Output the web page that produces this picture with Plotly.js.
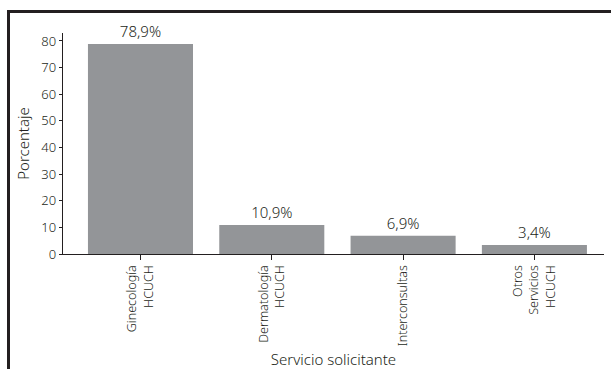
<!DOCTYPE html>
<html>
<head>
<meta charset="utf-8">
<script src="https://cdn.plot.ly/plotly-3.0.1.min.js"></script>
<style>
  html, body { margin: 0; padding: 0; background: #fff; overflow: hidden; }
  #wrap { position: relative; width: 611px; height: 369px; }
  #chart { position: absolute; left: 0; top: 0; width: 611px; height: 369px; }
  /* open frame: heavy rule along the top and down the left side */
  #frame-top { position: absolute; left: 7px; top: 10px; width: 604px; height: 3px; background: #231f20; }
  #frame-left { position: absolute; left: 7px; top: 10px; width: 3px; height: 359px; background: #231f20; }
</style>
</head>
<body>
<div id="wrap">
  <div id="chart"></div>
  <div id="frame-top"></div>
  <div id="frame-left"></div>
</div>
<script>
// Solicitudes por servicio de origen (porcentaje)
const categories = ['Ginecología<br>HCUCH', 'Dermatología<br>HCUCH', 'Interconsultas', 'Otros<br>Servicios<br>HCUCH'];
const percentages = [78.9, 10.9, 6.9, 3.4];
const yTicks = [0, 10, 20, 30, 40, 50, 60, 70, 80];

const W = 611, H = 369;
const M = { l: 63, r: 7, t: 33, b: 115 };

const FONT = '"Noto Sans", "DejaVu Sans Condensed", sans-serif';
const INK = '#231f20';

const trace = {
  type: 'bar',
  x: [0, 1, 2, 3],
  y: percentages,
  marker: { color: '#939598', line: { width: 0 } },
  text: percentages,
  texttemplate: '%{y:.1f}%',
  textposition: 'outside',
  textfont: { family: FONT, size: 15, color: INK, weight: 300 },
  cliponaxis: false,
  hoverinfo: 'none'
};

const layout = {
  width: W, height: H,
  margin: M,
  paper_bgcolor: 'rgba(0,0,0,0)',
  plot_bgcolor: 'rgba(0,0,0,0)',
  separators: ',.',
  showlegend: false,
  bargap: 0.2,
  font: { family: FONT, color: INK, size: 13, weight: 300 },
  xaxis: {
    range: [-0.59, 3.53],
    tickmode: 'array',
    tickvals: [0, 1, 2, 3],
    ticktext: categories,
    tickangle: -90,
    ticks: 'outside', ticklen: 5, tickwidth: 1, tickcolor: INK,
    showline: true, linecolor: INK, linewidth: 1.2,
    showgrid: false, zeroline: false,
    tickfont: { family: FONT, size: 12.5, color: INK, weight: 300 },
    title: { text: 'Servicio solicitante', font: { family: FONT, size: 15, color: INK, weight: 300 }, standoff: 10 },
    automargin: false
  },
  yaxis: {
    range: [0, 83],
    tickmode: 'array',
    tickvals: yTicks,
    ticks: 'outside', ticklen: 3, tickwidth: 1, tickcolor: INK,
    showline: true, linecolor: INK, linewidth: 1.2,
    showgrid: false, zeroline: false,
    tickfont: { family: FONT, size: 13, color: INK, weight: 300 },
    title: { text: 'Porcentaje', font: { family: FONT, size: 15, color: INK, weight: 300 }, standoff: 8 },
    automargin: false
  }
};

Plotly.newPlot('chart', [trace], layout, { displayModeBar: false, staticPlot: true });
</script>
</body>
</html>
